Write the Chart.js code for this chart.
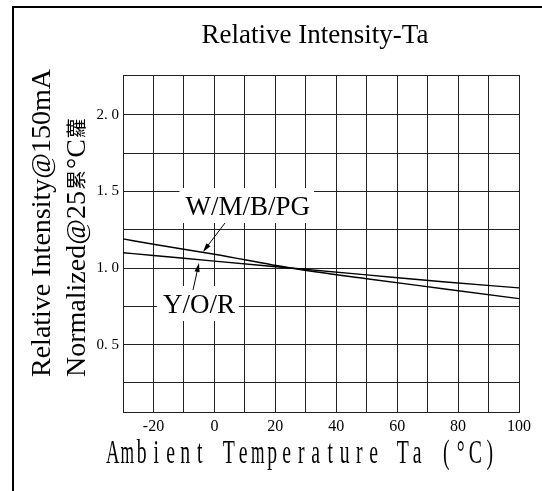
<!DOCTYPE html>
<html>
<head>
<meta charset="utf-8">
<script src="https://cdn.jsdelivr.net/npm/chart.js@4.4.0/dist/chart.umd.min.js"></script>
<style>
  html, body { margin: 0; padding: 0; background: #fff; }
  canvas { display: block; }
</style>
</head>
<body>
<canvas id="chart" width="542" height="491"></canvas>
<script>
// data
const temps = [-30, -20, 0, 25, 50, 75, 100];
const wmbpg = [1.19, 1.155, 1.09, 1.0, 0.93, 0.865, 0.80];
const yor = [1.10, 1.082, 1.045, 1.0, 0.955, 0.91, 0.87];

const xTickLabels = [-20, 0, 20, 40, 60, 80, 100];
const yTickLabels = [0.5, 1.0, 1.5, 2.0];
const yGridValues = [0.06, 0.25, 0.5, 0.75, 1.0, 1.25, 1.5, 1.75, 2.0, 2.26];

const chartTitle = 'Relative Intensity-Ta';
const yTitleLine1 = 'Relative Intensity@150mA';
// second line is split so the garbled CJK glyphs can be drawn smaller
const yTitleLine2 = ['Normalized@25', '累', '°C', '蘿'];
const xTitle = 'Ambient Temperature Ta (°C)';
const seriesNames = ['W/M/B/PG', 'Y/O/R'];

const SERIF = '"Liberation Serif", "Times New Roman", serif';
const CJK = '"Noto Sans CJK SC", sans-serif';

// label + arrow anchors, in data units
const notes = [
  { text: seriesNames[0], x: -9.5, y: 1.346, from: [3.49, 1.294], to: [-3.74, 1.105] },
  { text: seriesNames[1], x: -16.9, y: 0.706, from: [-7.02, 0.856], to: [-5.05, 1.033] }
];

function drawArrow(ctx, x1, y1, x2, y2) {
  const a = Math.atan2(y2 - y1, x2 - x1);
  const len = 9, half = 2.6;
  ctx.beginPath();
  ctx.moveTo(x1, y1);
  ctx.lineTo(x2 - Math.cos(a) * len * 0.8, y2 - Math.sin(a) * len * 0.8);
  ctx.stroke();
  ctx.beginPath();
  ctx.moveTo(x2, y2);
  ctx.lineTo(x2 - Math.cos(a) * len - Math.sin(a) * half, y2 - Math.sin(a) * len + Math.cos(a) * half);
  ctx.lineTo(x2 - Math.cos(a) * len + Math.sin(a) * half, y2 - Math.sin(a) * len - Math.cos(a) * half);
  ctx.closePath();
  ctx.fill();
}

const decorations = {
  id: 'decorations',
  beforeDraw(chart) {
    const ctx = chart.ctx;
    ctx.save();
    ctx.fillStyle = '#fff';
    ctx.fillRect(0, 0, chart.width, chart.height);
    ctx.restore();
  },
  beforeDatasetsDraw(chart) {
    // labels sit on white patches that hide the grid
    const ctx = chart.ctx;
    const { x, y } = chart.scales;
    ctx.save();
    ctx.fillStyle = '#fff';
    ctx.font = '27px ' + SERIF;
    notes.forEach(n => {
      const w = ctx.measureText(n.text).width;
      const lx = x.getPixelForValue(n.x);
      const ly = y.getPixelForValue(n.y);
      ctx.fillRect(lx - 6, ly - 27, w + 10, 35);
    });
    ctx.restore();
  },
  afterDraw(chart) {
    const ctx = chart.ctx;
    const { x, y } = chart.scales;
    ctx.save();
    ctx.fillStyle = '#000';
    ctx.strokeStyle = '#000';

    // outer frame (top and left only)
    ctx.lineWidth = 2;
    ctx.beginPath();
    ctx.moveTo(13, chart.height);
    ctx.lineTo(13, 7);
    ctx.lineTo(chart.width, 7);
    ctx.stroke();

    // title
    ctx.font = '27px ' + SERIF;
    ctx.textAlign = 'center';
    ctx.textBaseline = 'alphabetic';
    ctx.fillText(chartTitle, 315, 43);

    // y title, two rotated lines
    ctx.save();
    ctx.translate(50, 377);
    ctx.rotate(-Math.PI / 2);
    ctx.textAlign = 'left';
    ctx.font = '28px ' + SERIF;
    ctx.fillText(yTitleLine1, 0, 0);
    ctx.restore();

    ctx.save();
    ctx.translate(85, 377);
    ctx.rotate(-Math.PI / 2);
    ctx.textAlign = 'left';
    let pos = 0;
    yTitleLine2.forEach((part, i) => {
      const cjk = i % 2 === 1;
      ctx.font = cjk ? '20px ' + CJK : '28px ' + SERIF;
      if (cjk) pos += 1;
      ctx.fillText(part, pos, cjk ? -1 : 0);
      pos += ctx.measureText(part).width + (cjk ? 1 : 0);
    });
    ctx.restore();

    // x title, fixed pitch narrow glyphs
    const pitch = 14.5, x0 = 105.5;
    ctx.font = '34px ' + SERIF;
    ctx.textAlign = 'center';
    [...xTitle].forEach((ch, i) => {
      if (ch === ' ') return;
      const w = ctx.measureText(ch).width;
      const sx = Math.min(0.58, 13.5 / Math.max(w, 1));
      ctx.save();
      ctx.translate(x0 + (i + 0.5) * pitch, 463);
      ctx.scale(sx, 1);
      ctx.fillText(ch, 0, 0);
      ctx.restore();
    });

    // series labels and arrows
    ctx.font = '27px ' + SERIF;
    ctx.textAlign = 'left';
    ctx.lineWidth = 1;
    notes.forEach(n => {
      ctx.fillText(n.text, x.getPixelForValue(n.x), y.getPixelForValue(n.y));
      drawArrow(ctx,
        x.getPixelForValue(n.from[0]), y.getPixelForValue(n.from[1]),
        x.getPixelForValue(n.to[0]), y.getPixelForValue(n.to[1]));
    });
    ctx.restore();
  }
};

const ctx = document.getElementById('chart').getContext('2d');
new Chart(ctx, {
  type: 'line',
  data: {
    datasets: [
      { label: seriesNames[0], data: temps.map((t, i) => ({ x: t, y: wmbpg[i] })) },
      { label: seriesNames[1], data: temps.map((t, i) => ({ x: t, y: yor[i] })) }
    ].map(ds => Object.assign(ds, {
      borderColor: '#000', borderWidth: 1.4, pointRadius: 0,
      cubicInterpolationMode: 'monotone', fill: false
    }))
  },
  plugins: [decorations],
  options: {
    responsive: false,
    animation: false,
    layout: { padding: { left: 0, top: 75, right: 23, bottom: 0 } },
    plugins: { legend: { display: false }, tooltip: { enabled: false }, title: { display: false } },
    scales: {
      x: {
        type: 'linear', min: -30, max: 100,
        afterFit: s => { s.height = 79; },
        ticks: {
          stepSize: 10, padding: 5, color: '#000',
          font: { family: SERIF, size: 16 },
          maxRotation: 0, autoSkip: false,
          callback: v => xTickLabels.includes(v) ? String(v) : ''
        },
        grid: { color: '#222', lineWidth: 1, drawTicks: false },
        border: { color: '#222', width: 1 }
      },
      y: {
        type: 'linear', min: yGridValues[0], max: yGridValues[yGridValues.length - 1],
        afterFit: s => { s.width = 123; },
        afterBuildTicks: s => { s.ticks = yGridValues.map(v => ({ value: v })); },
        ticks: {
          padding: 4, color: '#000',
          font: { family: SERIF, size: 15 },
          autoSkip: false,
          callback: v => yTickLabels.includes(v) ? v.toFixed(1).replace('.', '. ') : ''
        },
        grid: { color: '#222', lineWidth: 1, drawTicks: false },
        border: { color: '#222', width: 1 }
      }
    }
  }
});
</script>
</body>
</html>
